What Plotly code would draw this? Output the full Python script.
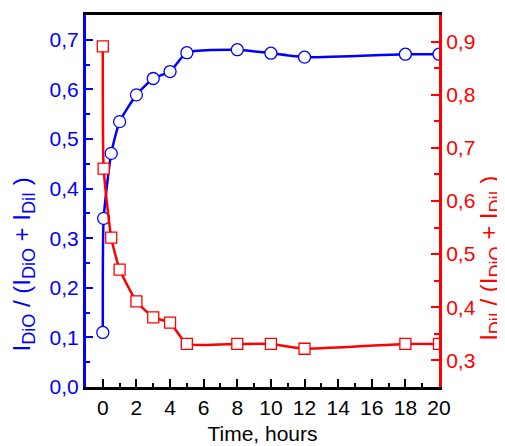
import plotly.graph_objects as go

time_h = [0, 0.05, 0.5, 1, 2, 3, 4, 5, 8, 10, 12, 18, 20]
dio_ratio = [0.11, 0.34, 0.471, 0.535, 0.589, 0.622, 0.636, 0.674, 0.680, 0.673, 0.665, 0.671, 0.671]
dii_ratio = [0.891, 0.661, 0.531, 0.471, 0.411, 0.381, 0.371, 0.331, 0.331, 0.331, 0.322, 0.331, 0.331]

BLUE = "#0000FF"
RED = "#FF0000"
FONT = "Liberation Sans, Arial, sans-serif"


def sub(s):
    return '<sub><span style="font-size:18px">' + s + '</span></sub>'


left_title = "I" + sub("DiO") + " / (I" + sub("DiO") + " + I" + sub("DiI") + " )"
right_title = "I" + sub("DiI") + " / (I" + sub("DiO") + " + I" + sub("DiI") + " )"

fig = go.Figure()
fig.add_trace(go.Scatter(
    x=time_h, y=dio_ratio, mode="lines+markers",
    line=dict(color=BLUE, width=2.5, shape="spline", smoothing=0.5),
    marker=dict(symbol="circle", size=12, color="white", line=dict(color=BLUE, width=1.3)),
    yaxis="y", showlegend=False,
))
fig.add_trace(go.Scatter(
    x=time_h, y=dii_ratio, mode="lines+markers",
    line=dict(color=RED, width=2.5, shape="spline", smoothing=0.45),
    marker=dict(symbol="square", size=11, color="white", line=dict(color=RED, width=1.3)),
    yaxis="y2", showlegend=False,
))

# page body adds an ~8px offset; compensate so the plot sits where the reference has it
fig.update_layout(
    width=497, height=438,
    margin=dict(l=78, r=66, t=7, b=59, autoexpand=False),
    paper_bgcolor="white", plot_bgcolor="white",
    separators=", ",
    font=dict(family=FONT, size=21, color="black"),
    xaxis=dict(
        range=[-1, 20], tick0=0, dtick=2, ticks="inside", ticklen=8, tickwidth=2,
        tickcolor="black", showline=True, linecolor="black", linewidth=2.5, mirror=True,
        showgrid=False, zeroline=False, automargin=False,
        minor=dict(dtick=1, ticks="inside", ticklen=4, tickwidth=2, tickcolor="black"),
        tickfont=dict(size=21, color="black"),
        title=dict(text="Time, hours", font=dict(size=21, color="black"), standoff=9),
    ),
    yaxis=dict(
        range=[0, 0.75], tick0=0, dtick=0.1, tickformat=".1f", ticks="inside", ticklen=7,
        tickwidth=2, tickcolor=BLUE, showline=True, linecolor=BLUE, linewidth=3,
        showgrid=False, zeroline=False, automargin=False,
        minor=dict(dtick=0.05, ticks="inside", ticklen=4, tickwidth=2, tickcolor=BLUE),
        tickfont=dict(size=21, color=BLUE),
    ),
    yaxis2=dict(
        range=[0.25, 0.95], tick0=0.3, dtick=0.1, tickformat=".1f", ticks="inside", ticklen=8,
        tickwidth=2, tickcolor=RED, showline=True, linecolor=RED, linewidth=3,
        showgrid=False, zeroline=False, overlaying="y", side="right", automargin=False,
        minor=dict(dtick=0.05, ticks="inside", ticklen=5, tickwidth=2, tickcolor=RED),
        tickfont=dict(size=21, color=RED),
    ),
    annotations=[
        dict(text=left_title, textangle=-90,
             xref="paper", yref="paper", x=-0.178, y=0.33, showarrow=False,
             xanchor="center", yanchor="middle", font=dict(size=24, color=BLUE)),
        dict(text=right_title, textangle=-90,
             xref="paper", yref="paper", x=1.145, y=0.345, showarrow=False,
             xanchor="center", yanchor="middle", font=dict(size=24, color=RED)),
    ],
)

fig.write_html("out.html")
